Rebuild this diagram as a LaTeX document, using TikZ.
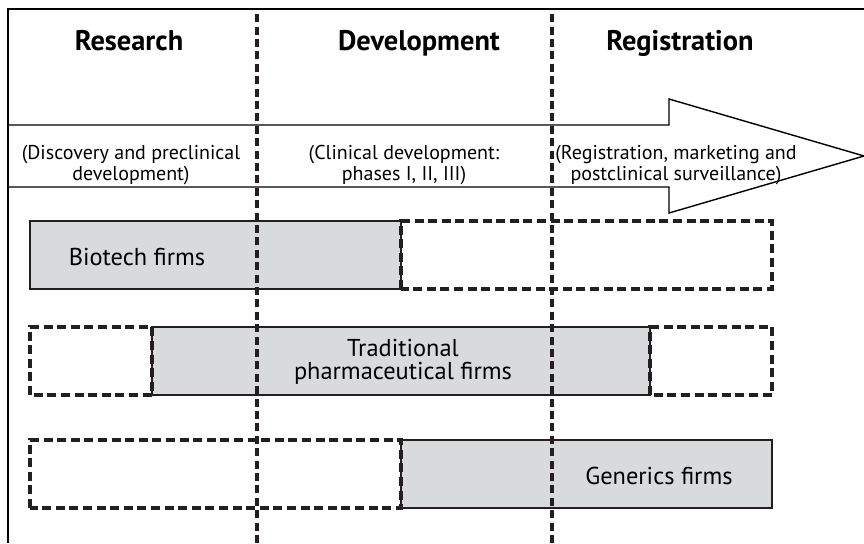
\documentclass[tikz,border=0pt]{standalone}
\usepackage{fontspec}
\setmainfont{PT Sans}
\usepackage{xcolor}
\usepackage{tikz}

\definecolor{firmgrey}{HTML}{D9DADC}
\definecolor{inkgrey}{HTML}{231F20}

\begin{document}
\begin{tikzpicture}[x=0.5pt,y=0.5pt,
    stage/.style={font=\bfseries\fontsize{14.2}{16}\selectfont, anchor=base},
    phase/.style={font=\fontsize{10}{8.6}\selectfont, align=center},
    firm/.style={font=\fontsize{12.2}{11.6}\selectfont, align=center},
    solidbox/.style={draw=inkgrey, line width=0.7pt, fill=firmgrey},
    openbox/.style={draw=inkgrey, line width=1.6pt, dash pattern=on 4.5pt off 2.3pt},
    divider/.style={draw=inkgrey, line width=1.8pt, dash pattern=on 4pt off 2.2pt}]

    \useasboundingbox (0,0) rectangle (864,543);

    % Process arrow
    \draw[line width=0.7pt, fill=white] (8,418) -- (669,418) -- (669,444) -- (864,387)
        -- (669,330) -- (669,356) -- (8,356) -- cycle;

    % Biotech firms
    \draw[solidbox] (30,254) rectangle (401,322);
    \draw[openbox] (401,254) rectangle (772,322);

    % Traditional firms
    \draw[solidbox] (152,148) rectangle (650,216);
    \draw[openbox] (30,148) rectangle (152,216);
    \draw[openbox] (650,148) rectangle (772,216);

    % Generics firms
    \draw[solidbox] (401,35) rectangle (772,103);
    \draw[openbox] (30,35) rectangle (401,103);

    % Stage dividers
    \draw[divider] (257,0) -- (257,534);
    \draw[divider] (552,0) -- (552,534);

    % Frame
    \draw[line width=1.3pt] (8,0) -- (8,534) -- (864,534);

    % Stage headings
    \node[stage] (research) at (129,493) {Research};
    \node[stage] (development) at (419,493) {Development};
    \node[stage] (registration) at (680,493) {Registration};

    % Stage contents
    \node[phase] (discovery) at (131,378) {(Discovery and preclinical\\development)};
    \node[phase] (clinical) at (404,378) {(Clinical development:\\phases I, II, III)};
    \node[phase] (marketing) at (676,378) {(Registration, marketing and\\postclinical surveillance)};

    % Firm labels
    \node[firm] (biotech) at (137,286) {Biotech firms};
    \node[firm] (traditional) at (403,181) {Traditional\\pharmaceutical firms};
    \node[firm] (generics) at (659,67) {Generics firms};
\end{tikzpicture}
\end{document}
